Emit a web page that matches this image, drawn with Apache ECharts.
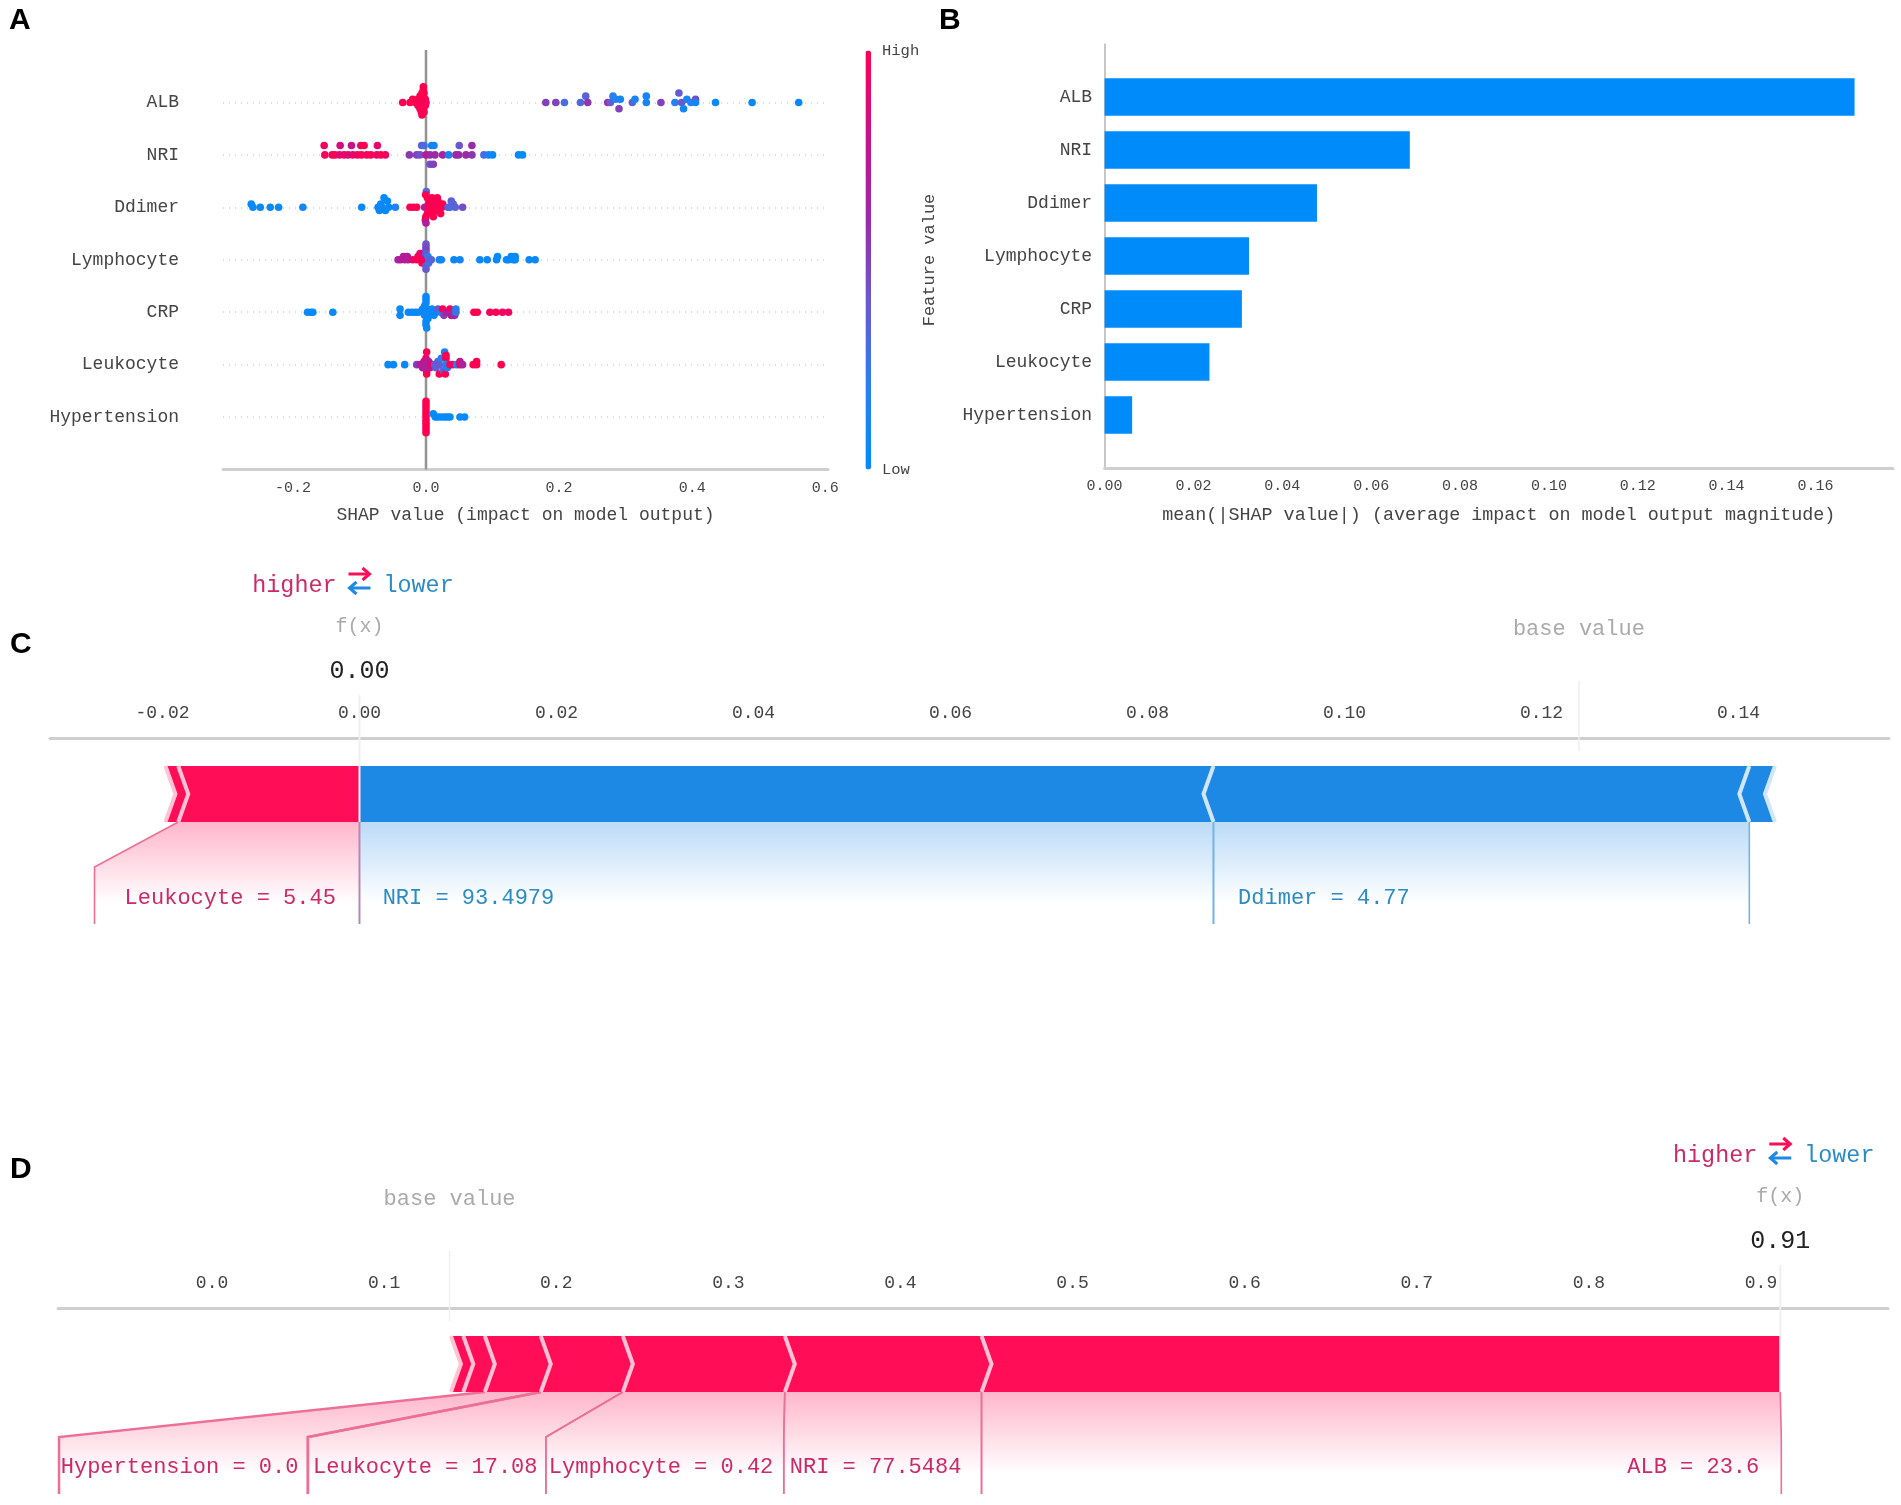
<!DOCTYPE html>
<html><head><meta charset="utf-8">
<script src="https://cdn.jsdelivr.net/npm/echarts@6/dist/echarts.min.js"></script>
<style>html,body{margin:0;padding:0;background:#fff}#c{width:1901px;height:1505px}</style>
</head><body><div id="c"></div>
<script>
const features = ['ALB','NRI','Ddimer','Lymphocyte','CRP','Leukocyte','Hypertension'];
const meanShap = [0.1688,0.0687,0.0478,0.0325,0.0309,0.0236,0.0062];
const ticksA = [-0.2,0,0.2,0.4,0.6];
const ticksB = [0,0.02,0.04,0.06,0.08,0.10,0.12,0.14,0.16];
const ticksC = [-0.02,0,0.02,0.04,0.06,0.08,0.10,0.12,0.14];
const ticksD = [0,0.1,0.2,0.3,0.4,0.5,0.6,0.7,0.8,0.9];

// beeswarm points: [shap value, swarm lane, feature value 0..1]
const albPoints = [[-0.035,0,1],[-0.024,0,1],[-0.02,1,1],[-0.016,0,1],[-0.012,1,1],[-0.012,-1,1],[-0.009,2,1],[-0.009,-2,1],[-0.009,0,.95],[-0.006,3,1],[-0.007,-3,1],[-0.006,1,1],[-0.006,-1,1],[-0.004,4,1],[-0.006,-4,1],[-0.004,2,1],[-0.004,-2,.95],[-0.004,5,1],[-0.003,3,1],[-0.002,0,.95],[-0.003,-3,1],[-0.001,1,1],[-0.001,-1,1],[0,0,.97],
[.18,0,.5],[.195,0,.5],[.208,0,.3],[.232,0,.32],[.24,2,.35],[.243,0,.55],[.273,0,.55],[.277,0,.4],[.281,2,.2],[.285,1,.15],[.29,-2,.5],[.292,1,.1],[.31,0,.35],[.314,1,.12],[.331,0,.1],[.331,2,.1],[.353,0,.5],[.374,0,.15],[.38,3,.4],[.384,0,.4],[.387,-2,.08],[.392,1,.1],[.398,0,.15],[.405,1,.45],[.405,0,.1],[.435,0,.05],[.49,0,.05],[.56,0,.05]];
const nriPoints = [[-.152,0,.95],[-.141,0,.95],[-.137,0,1],[-.13,0,.9],[-.123,0,.95],[-.117,0,.85],[-.11,0,.95],[-.103,0,.9],[-.097,0,1],[-.089,0,.95],[-.083,0,1],[-.074,0,.9],[-.068,0,1],[-.061,0,.95],
[-.153,3,.95],[-.129,3,.85],[-.112,3,.8],[-.098,3,.95],[-.093,3,1],[-.073,3,.9],
[-.025,0,.55],[-.014,0,.5],[-.009,0,.42],[0,0,.75],[.006,0,.6],[.0135,0,.6],[.025,0,.65],[.034,0,.1],[.045,0,.6],[.049,0,.6],[.06,0,.6],[.069,0,.55],[.087,0,.3],[.094,0,.1],[.1,0,.05],[.139,0,.05],[.145,0,.02],
[-.0065,3,.35],[-.003,3,.3],[.0085,3,.1],[.012,3,.1],[.05,3,.4],[.069,3,.6],[.006,-3,.45],[.011,-3,.5]];
const ddimerPoints = [[-.2625,1,.02],[-.26,0,.02],[-.249,0,.05],[-.234,0,.05],[-.2215,0,.02],[-.185,0,.1],[-.0966,0,.05],[-.072,0,.05],[-.07,-1,.05],[-.068,1,.02],[-.066,0,.1],[-.063,3,.02],[-.061,-1,.05],[-.058,2,.05],[-.056,0,.02],[-.046,0,.15],
[-.024,0,1],[-.019,0,.95],[-.014,0,1],[.0005,5,.3],[-.0005,4,1],[-.002,0,.7],[-.001,-4,.8],[0,-5,.7],[-.0003,-3,.95],[.002,3,1],[.002,-2,1],[.004,1,1],[.005,-1,1],[.007,0,1],[.008,2,1],[.009,3,1],[.01,-2,1],[.011,-3,1],[.012,1,.95],[.014,0,1],[.015,-1,1],[.017,3,1],[.018,2,1],[.02,1,1],[.022,-2,1],[.024,0,1],[.025,1,1],
[.033,0,.35],[.036,0,.3],[.038,2,.35],[.041,1,.35],[.044,0,.35],[.055,0,.45]];
const lymphoPoints = [[-.042,0,.65],[-.038,0,.7],[-.034,1,.7],[-.032,0,.75],[-.028,1,.7],[-.027,0,.7],[-.02,0,.9],[-.014,0,1],[-.012,1,1],[-.009,2,.95],[-.006,-1,1],[-.005,0,.95],[-.004,2,.8],[0,5,.4],[0,4,.45],[0,3,.5],[0,2,.4],[0,-2,.35],[0,-3,.4],[.003,1,.2],[.004,-1,.3],[.005,0,.3],[.008,0,.35],
[.02,0,.05],[.023,0,.1],[.042,0,.05],[.051,0,.1],[.081,0,.05],[.092,0,.05],[.106,0,.05],[.1075,1,.02],[.121,0,.05],[.124,0,.02],[.128,1,.05],[.131,0,.02],[.134,1,.05],[.134,0,.02],[.155,0,.05],[.164,0,.05]];
const crpPoints = [[-.178,0,.05],[-.173,0,.05],[-.17,0,.02],[-.14,0,.05],[-.039,1,.05],[-.039,-1,.05],[-.0265,0,.05],[-.021,0,.05],[-.016,0,.02],[-.0115,0,.05],[-.005,1,.05],[0,5,.05],[0,4,.02],[0,3,.05],[-.002,2,.05],[.002,1,.02],[0,0,.05],[-.002,-1,.05],[.003,-2,.02],[0,-3,.05],[0,-4,.02],[.001,-5,.05],[.006,0,.05],[.009,1,.05],[.012,-1,.05],[.015,0,.05],
[.018,1,.4],[.022,0,.15],[.025,1,1],[.027,-1,.5],[.031,0,.7],[.034,0,.65],[.036,1,.95],[.038,-1,.7],[.041,0,.6],[.043,-1,.6],[.045,1,.1],[.045,0,.25],
[.072,0,1],[.077,0,1],[.096,0,.95],[.105,0,1],[.115,0,.95],[.124,0,.95]];
const leukoPoints = [[-.057,0,.05],[-.049,0,.05],[-.032,0,.05],[-.014,0,.5],[-.009,0,.7],[.001,4,1],[-.003,1,.75],[-.005,-1,.7],[0,2,.9],[0,0,.7],[.001,-2,.65],[.001,-3,1],[.004,1,.7],[.006,-1,.75],[.008,0,.8],[.01,0,.95],[.013,0,.4],
[.015,-1,.35],[.018,1,.35],[.02,-3,1],[.02,0,.4],[.023,2,.15],[.026,-2,.35],[.028,4,.1],[.029,-3,1],[.03,3,1],[.03,2,1],[.03,0,.15],[.032,-1,.1],[.036,0,1],[.04,0,.95],[.046,0,.1],[.051,1,.75],[.051,0,.95],[.055,0,.65],
[.071,0,1],[.076,0,1],[.076,1,1],[.113,0,1]];
const hyperPoints = [[0,5,1],[0,4,1],[0,3,1],[0,2,1],[0,1,1],[0,0,1],[0,-1,1],[0,-2,1],[0,-3,1],[0,-4,1],[0,-5,1],
[.011,1,.02],[.014,0,.02],[.018,0,.02],[.023,0,.02],[.028,0,.02],[.032,0,.02],[.036,0,.02],[.051,0,.02],[.058,0,.02]];
const swarmRows = [albPoints,nriPoints,ddimerPoints,lymphoPoints,crpPoints,leukoPoints,hyperPoints];

// force plots: chevron edges in output units
const cRedEdges = [-0.0197,-0.0184,0];
const cBlueEdges = [0,0.0867,0.1411,0.1437];
const cFx = 0, cBase = 0.1238, cFxText = '0.00';
const cRedLabels = [{text:'Leukocyte = 5.45',top:[-0.0184,0],foot:[-0.0269,0],at:-0.0024,align:'right'}];
const cBlueLabels = [{text:'NRI = 93.4979',top:[0,0.0867],foot:[0,0.0867],at:0.00235,align:'left'},
                     {text:'Ddimer = 4.77',top:[0.0867,0.1411],foot:[0.0867,0.1411],at:0.0892,align:'left'}];
const dRedEdges = [0.1388,0.146,0.1585,0.191,0.2387,0.3328,0.4471,0.9112];
const dFx = 0.9112, dBase = 0.138, dFxText = '0.91';
const dRedLabels = [{text:'Hypertension = 0.0',top:[0.1585,0.191],foot:[-0.0889,0.0557],at:-0.0879,align:'left'},
 {text:'Leukocyte = 17.08',top:[0.191,0.2387],foot:[0.0557,0.194],at:0.0587,align:'left'},
 {text:'Lymphocyte = 0.42',top:[0.2387,0.3328],foot:[0.194,0.3322],at:0.1957,align:'left'},
 {text:'NRI = 77.5484',top:[0.3328,0.4471],foot:[0.3322,0.4471],at:0.3357,align:'left'},
 {text:'ALB = 23.6',top:[0.4471,0.9112],foot:[0.4471,0.9118],at:0.899,align:'right'}];

const MONO = '"Liberation Mono","DejaVu Sans Mono",monospace';
const RED='#ff0d57', BLUE='#1e88e5', PALE_RED='#ffc3d5', PALE_BLUE='#d1e6fa';
const TXT_RED='#cb2a68', TXT_BLUE='#2b8cc4';
const LANE=0.06;

function grad(rgb){return {type:'linear',x:0,y:0,x2:0,y2:1,colorStops:[{offset:0,color:`rgba(${rgb},0.3)`},{offset:0.8,color:`rgba(${rgb},0)`},{offset:1,color:`rgba(${rgb},0)`}]};}

function forcePlot(ai,cfg){
  const barTop=28,barBot=84,mid=56,bend=129,foot=186,TIP=10;
  return {type:'custom',xAxisIndex:ai,yAxisIndex:ai,clip:false,silent:true,z:3,
    data:[[cfg.fx,0]],encode:{x:0,y:1},
    renderItem(p,api){
      const P=(x,y)=>api.coord([x,y]);
      const kids=[];
      const line=(pts,stroke,w)=>kids.push({type:'polyline',shape:{points:pts},style:{stroke,lineWidth:w,fill:null}});
      const text=(t,x,y,fill,size,align)=>kids.push({type:'text',style:{text:t,x,y,fill,font:`${size}px ${MONO}`,align,verticalAlign:'middle',textAlign:align,textBaseline:'middle'}});
      const areas=(labels,rgb)=>labels.forEach(l=>{
        const a=P(l.top[0],barBot),b=P(l.top[1],barBot),c=P(l.foot[1],bend),d=P(l.foot[1],foot),e=P(l.foot[0],foot),f=P(l.foot[0],bend);
        kids.push({type:'polygon',shape:{points:[a,b,c,d,e,f]},style:{fill:grad(rgb)}});
      });
      const edgesOf=(labels,stroke)=>labels.forEach(l=>{
        line([P(l.top[0],barBot),P(l.foot[0],bend),P(l.foot[0],foot)],stroke,Math.abs(P(l.top[0],0)[0]-P(l.foot[0],0)[0])>150?2.5:1.6);
        line([P(l.top[1],barBot),P(l.foot[1],bend),P(l.foot[1],foot)],stroke,Math.abs(P(l.top[1],0)[0]-P(l.foot[1],0)[0])>150?2.5:1.6);
      });
      areas(cfg.blueLabels,'30,136,229');areas(cfg.redLabels,'255,13,87');
      edgesOf(cfg.blueLabels,'#74b4e4');edgesOf(cfg.redLabels,'#ec6f96');
      const re=cfg.redEdges;
      for(let i=0;i<re.length-1;i++){
        const a=P(re[i],barTop),b=P(re[i+1],barTop),c=P(re[i+1],barBot),d=P(re[i],barBot),my=P(0,mid)[1];
        const pts=[a,b];if(i<re.length-2)pts.push([b[0]+TIP,my]);pts.push(c,d,[a[0]+TIP,my]);
        kids.push({type:'polygon',shape:{points:pts},style:{fill:RED}});
      }
      for(let i=0;i<re.length-1;i++){const a=P(re[i],barTop),d=P(re[i],barBot),my=P(0,mid)[1];line([a,[a[0]+TIP,my],d],PALE_RED,4);}
      const be=cfg.blueEdges;
      for(let i=0;i<be.length-1;i++){
        const a=P(be[i],barTop),b=P(be[i+1],barTop),c=P(be[i+1],barBot),d=P(be[i],barBot),my=P(0,mid)[1];
        const pts=[a,b,[b[0]-TIP,my],c,d];if(i>0)pts.push([a[0]-TIP,my]);
        kids.push({type:'polygon',shape:{points:pts},style:{fill:BLUE}});
      }
      for(let i=1;i<be.length;i++){const a=P(be[i],barTop),d=P(be[i],barBot),my=P(0,mid)[1];line([a,[a[0]-TIP,my],d],PALE_BLUE,4);}
      line([P(cfg.base,-57),P(cfg.base,13)],'#efefef',1.5);
      line([P(cfg.fx,-43),P(cfg.fx,barBot)],'#f0f0f0',2);
      cfg.redLabels.forEach(l=>{const q=P(l.at,cfg.labelY);text(l.text,q[0],q[1],TXT_RED,22,l.align);});
      cfg.blueLabels.forEach(l=>{const q=P(l.at,cfg.labelY);text(l.text,q[0],q[1],TXT_BLUE,22,l.align);});
      const fx=P(cfg.fx,0)[0], y0=P(0,0)[1];
      text('f(x)',fx,y0-111,'#aaaaaa',20,'center');
      text(cfg.fxText,fx,y0-67,'#222222',25,'center');
      const bq=P(cfg.base,-109);text('base value',bq[0],bq[1],'#aaaaaa',22,'center');
      text('higher',fx-23,y0-152,TXT_RED,23.4,'right');
      text('lower',fx+24,y0-152,TXT_BLUE,23.4,'left');
      const ay=y0-164, by=y0-150;
      line([[fx-11,ay],[fx+10,ay]],RED,3);line([[fx+3,ay-6],[fx+10,ay],[fx+3,ay+6]],RED,3);
      line([[fx-10,by],[fx+11,by]],BLUE,3);line([[fx-3,by-6],[fx-10,by],[fx-3,by+6]],BLUE,3);
      return {type:'group',children:kids};
    }};
}

const scatterData=[];
swarmRows.forEach((row,i)=>row.forEach(p=>scatterData.push([p[0],7-i+p[1]*LANE,p[2]])));
const axisLine={show:true,lineStyle:{color:'#cfcfcf',width:3}};
const fixed=n=>v=>Number(v).toFixed(n);
const panelLabels=[['A',9,21],['B',939,21],['C',10,645],['D',10,1170]];

const option={
  animation:false,backgroundColor:'#fff',
  textStyle:{fontFamily:MONO},
  grid:[
    {left:223,top:50,width:605,height:419.5},
    {left:1104.6,top:44,width:788.4,height:424},
    {left:50,top:738,width:1839,height:186},
    {left:58,top:1308,width:1830,height:186}
  ],
  xAxis:[
    {gridIndex:0,type:'value',min:-0.305,max:0.604,splitLine:{show:false},axisLine,axisTick:{show:false},
     axisLabel:{customValues:ticksA,formatter:fixed(1),fontSize:15,color:'#444',fontFamily:MONO,margin:11},
     name:'SHAP value (impact on model output)',nameLocation:'middle',nameGap:37,nameTextStyle:{fontSize:18,color:'#444',fontFamily:MONO}},
    {gridIndex:1,type:'value',min:0,max:0.17745,splitLine:{show:false},axisLine,axisTick:{show:false},
     axisLabel:{customValues:ticksB,formatter:fixed(2),fontSize:15,color:'#444',fontFamily:MONO,margin:11},
     name:'mean(|SHAP value|) (average impact on model output magnitude)',nameLocation:'middle',nameGap:38,nameTextStyle:{fontSize:18.4,color:'#444',fontFamily:MONO}},
    {gridIndex:2,type:'value',position:'top',min:-0.03142,max:0.15528,splitLine:{show:false},axisLine,axisTick:{show:false},
     axisLabel:{customValues:ticksC,formatter:fixed(2),fontSize:18,color:'#444',fontFamily:MONO,margin:16}},
    {gridIndex:3,type:'value',position:'top',min:-0.0895,max:0.9738,splitLine:{show:false},axisLine,axisTick:{show:false},
     axisLabel:{customValues:ticksD,formatter:fixed(1),fontSize:18,color:'#444',fontFamily:MONO,margin:16}}
  ],
  yAxis:[
    {gridIndex:0,type:'value',min:0,max:8,interval:1,axisLine:{show:false},axisTick:{show:false},
     splitLine:{show:true,lineStyle:{type:[1,5],width:1.5,color:['rgba(0,0,0,0)','#cfcfcf','#cfcfcf','#cfcfcf','#cfcfcf','#cfcfcf','#cfcfcf','#cfcfcf','rgba(0,0,0,0)']}},
     axisLabel:{formatter:v=>features[7-v]||'',fontSize:18,color:'#444',fontFamily:MONO,margin:44,padding:[7,0,0,0]}},
    {gridIndex:1,type:'category',inverse:true,boundaryGap:false,data:[' ',...features,' '],
     axisLine:{show:true,lineStyle:{color:'#b5b5b5',width:1.5}},axisTick:{show:false},
     axisLabel:{fontSize:18,color:'#444',fontFamily:MONO,margin:12.5,interval:0,padding:[4,0,0,0]}},
    {gridIndex:2,type:'value',min:0,max:186,inverse:true,show:false},
    {gridIndex:3,type:'value',min:0,max:186,inverse:true,show:false}
  ],
  visualMap:[{type:'continuous',seriesIndex:1,dimension:2,min:0,max:1,left:850.5,top:35.5,itemWidth:5.5,itemHeight:419,
    calculable:false,text:null,showLabel:false,realtime:false,hoverLink:false,
    inRange:{color:['#008bfb','#2a7ff0','#6a58d0','#9a2aa8','#c8108a','#ff0051']}}],
  series:[
    {type:'line',xAxisIndex:0,yAxisIndex:0,data:[[0,0],[0,8]],symbol:'none',silent:true,z:1,lineStyle:{color:'#939393',width:2.5}},
    {type:'scatter',xAxisIndex:0,yAxisIndex:0,data:scatterData,symbolSize:7.6,z:2,silent:true,itemStyle:{opacity:1}},
    {type:'bar',xAxisIndex:1,yAxisIndex:1,data:[null,...meanShap,null],barWidth:37.3,silent:true,itemStyle:{color:'#008bfb'}},
    forcePlot(2,{fx:cFx,base:cBase,fxText:cFxText,redEdges:cRedEdges,blueEdges:cBlueEdges,redLabels:cRedLabels,blueLabels:cBlueLabels,labelY:160}),
    forcePlot(3,{fx:dFx,base:dBase,fxText:dFxText,redEdges:dRedEdges,blueEdges:[],redLabels:dRedLabels,blueLabels:[],labelY:159})
  ],
  graphic:[
    ...panelLabels.map(l=>({type:'text',left:l[1],top:l[2]-15,style:{text:l[0],font:'bold 30px "Liberation Sans",Arial,sans-serif',fill:'#000'}})),
    {type:'text',left:882,top:43,style:{text:'High',font:`15.5px ${MONO}`,fill:'#444'}},
    {type:'text',left:882,top:462,style:{text:'Low',font:`15.5px ${MONO}`,fill:'#444'}},
    {type:'text',x:929,y:260,rotation:Math.PI/2,style:{text:'Feature value',font:`17px ${MONO}`,fill:'#444',align:'center',verticalAlign:'middle',textAlign:'center',textBaseline:'middle'}}
  ]
};
const chart=echarts.init(document.getElementById('c'),null,{width:1901,height:1505});
chart.setOption(option);
</script>
</body></html>
